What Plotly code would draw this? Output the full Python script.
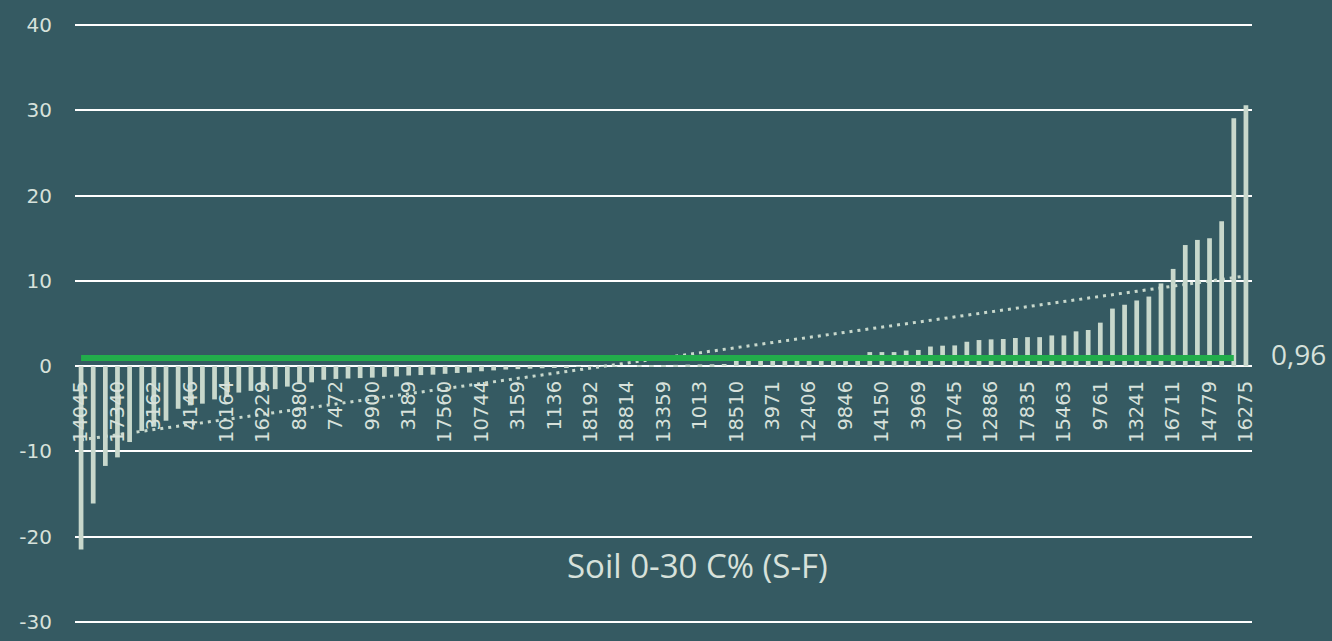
import numpy as np
import plotly.graph_objects as go

# ---- data (sorted differences, Soil 0-30 C%) ----
values = [
    -21.5, -16.1, -11.7, -10.7, -8.9, -7.6, -7.1, -6.4, -5.0, -4.6,
    -4.4, -3.9, -3.6, -3.1, -2.9, -2.8, -2.7, -2.4, -1.95, -1.9,
    -1.6, -1.5, -1.45, -1.4, -1.35, -1.25, -1.2, -1.1, -1.05, -1.0,
    -0.9, -0.8, -0.75, -0.6, -0.5, -0.4, -0.35, -0.3, -0.25, -0.2,
    -0.15, -0.1, -0.05, -0.03, -0.02, 0.0, 0.05, 0.1, 0.12, 0.15,
    0.18, 0.2, 0.22, 0.25, 0.65, 0.7, 0.75, 0.8, 0.85, 0.9,
    0.95, 1.0, 1.05, 1.1, 1.2, 1.65, 1.65, 1.65, 1.83, 1.9,
    2.3, 2.4, 2.43, 2.86, 3.06, 3.14, 3.18, 3.3, 3.4, 3.4,
    3.6, 3.6, 4.08, 4.24, 5.1, 6.75, 7.2, 7.7, 8.16, 9.7,
    11.4, 14.2, 14.8, 15.0, 17.0, 29.06, 30.6,
]

tick_labels = [
    "14045", "17340", "3162", "4146", "10164", "16229", "8980", "7472",
    "9900", "3189", "17560", "10744", "3159", "1136", "18192", "18814",
    "13359", "1013", "18510", "3971", "12406", "9846", "14150", "3969",
    "10745", "12886", "17835", "15463", "9761", "13241", "16711", "14779",
    "16275",
]
label_step = 3

y_ticks = [-30, -20, -10, 0, 10, 20, 30, 40]

mean_value = 0.96
mean_label = "0,96"
title_text = "Soil 0-30 C% (S-F)"

# ---- styling ----
BG = "#355A62"
BAR = "#C8D8CC"
GREEN = "#22AD4B"
TEXT = "#D7E1DB"
GRID = "#FFFFFF"

idx = np.arange(len(values))
slope, intercept = np.polyfit(idx, np.array(values), 1)
trend = slope * idx + intercept

fig = go.Figure()
fig.add_trace(go.Bar(
    x=idx, y=values, width=0.39,
    marker=dict(color=BAR, line=dict(width=0)),
    hoverinfo="skip",
))
fig.add_trace(go.Scatter(
    x=idx, y=trend, mode="lines",
    line=dict(color=BAR, width=3, dash="3px,5px"),
    hoverinfo="skip",
))
fig.add_trace(go.Scatter(
    x=idx[:-1], y=[mean_value] * (len(values) - 1), mode="lines",
    line=dict(color=GREEN, width=6),
    hoverinfo="skip",
))

pad = 0.12  # tiny padding so the edge gridlines (40 and -30) are drawn
lo, hi = min(y_ticks) - pad, max(y_ticks) + pad
zero_pos = (0 - lo) / (hi - lo)

fig.update_layout(
    width=1332, height=641,
    paper_bgcolor=BG, plot_bgcolor=BG,
    margin=dict(l=75, r=80, t=24, b=18, autoexpand=False),
    showlegend=False,
    xaxis=dict(
        range=[-0.5, len(values) - 0.5],
        tickmode="array",
        tickvals=list(idx[::label_step]),
        ticktext=tick_labels,
        tickangle=-90,
        anchor="free", position=zero_pos,
        showgrid=False, zeroline=False, showline=False,
        ticks="outside", ticklen=6, tickcolor="rgba(0,0,0,0)",
        tickfont=dict(family="DejaVu Sans", size=19.5, color=TEXT),
        automargin=False,
    ),
    yaxis=dict(
        range=[lo, hi],
        tickmode="array", tickvals=y_ticks,
        ticktext=[str(v) for v in y_ticks],
        showgrid=True, gridcolor=GRID, gridwidth=2,
        zeroline=True, zerolinecolor=GRID, zerolinewidth=2,
        showline=False,
        ticks="outside", ticklen=18, tickcolor="rgba(0,0,0,0)",
        tickfont=dict(family="DejaVu Sans", size=20, color=TEXT),
        automargin=False,
    ),
    annotations=[
        dict(
            text=title_text, xref="paper", yref="y",
            x=0.529, y=-23.4, xanchor="center", yanchor="middle",
            showarrow=False,
            font=dict(family="Open Sans", size=33, color=TEXT),
        ),
        dict(
            text=mean_label, xref="paper", yref="y",
            x=1.0145, y=mean_value, xanchor="left", yanchor="middle",
            yshift=4, showarrow=False,
            font=dict(family="Open Sans", size=28, color=TEXT),
        ),
    ],
)

fig.write_html(
    "out.html",
    config={"displayModeBar": False},
    post_script="document.body.style.margin='0';"
                "document.body.style.background='" + BG + "';",
)
